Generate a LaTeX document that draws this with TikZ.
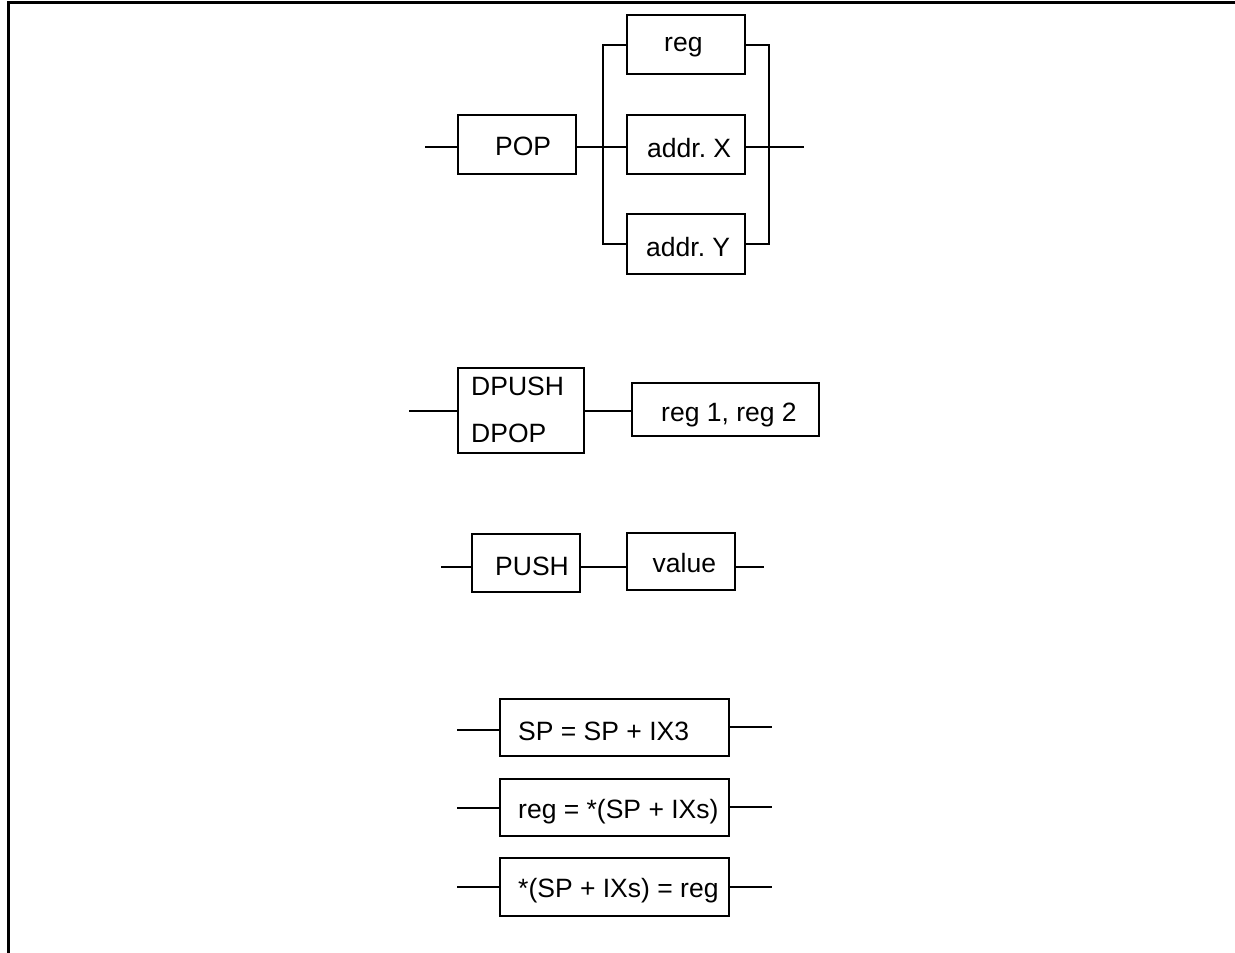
\documentclass[tikz,border=0pt]{standalone}
\usepackage{fontspec}
\setmainfont{Liberation Sans}
\frenchspacing
\begin{document}
\begin{tikzpicture}[x=1pt,y=-1pt,
  box/.style={draw, line width=2pt, inner sep=0pt, minimum width=#1},
  txt/.style={anchor=base west, inner sep=0pt, font=\fontsize{26.5}{31}\selectfont},
  wire/.style={line width=2pt},
  frame/.style={line width=3pt}]
\useasboundingbox (0,0) rectangle (1235,953);
% frame
\coordinate (fb) at (8.5,953);
\coordinate (fc) at (8.5,2.5);
\coordinate (fr) at (1235,2.5);
\draw[frame] (fb) -- (fc) -- (fr);

% ---- POP group
\node[box=118, minimum height=59] (pop) at (517,144.5) {};
\node[box=118, minimum height=59] (reg) at (686,44.5) {};
\node[box=118, minimum height=59] (addrX) at (686,144.5) {};
\node[box=118, minimum height=60] (addrY) at (686,244) {};
\node[txt] (popT) at (495,155) {POP};
\node[txt] (regT) at (664,51) {reg};
\node[txt] (addrXT) at (647,157) {addr.\ X};
\node[txt] (addrYT) at (646,256) {addr.\ Y};
\coordinate (inPOP) at (425,146.5);
\coordinate (busL) at (603,146.5);
\coordinate (busR) at (769,146.5);
\coordinate (outPOP) at (804,146.5);
\draw[wire] (inPOP) -- (pop.west |- inPOP);
\draw[wire] (pop.east |- busL) -- (addrX.west |- busL);
\draw[wire] (reg.west) -- (reg.west -| busL) -- (addrY.west -| busL) -- (addrY.west);
\draw[wire] (reg.east) -- (reg.east -| busR) -- (addrY.east -| busR) -- (addrY.east);
\draw[wire] (addrX.east |- busR) -- (outPOP);

% ---- DPUSH / DPOP group
\node[box=126, minimum height=85] (dpush) at (521,410.5) {};
\node[box=187, minimum height=53] (regs) at (725.5,409.5) {};
\node[txt] (dpushT) at (471,395) {DPUSH};
\node[txt] (dpopT) at (471,442) {DPOP};
\node[txt] (regsT) at (661,421) {reg 1, reg 2};
\coordinate (inD) at (409,410.5);
\draw[wire] (inD) -- (dpush.west |- inD);
\draw[wire] (dpush.east |- inD) -- (regs.west |- inD);

% ---- PUSH group
\node[box=108, minimum height=58] (push) at (526,563) {};
\node[box=108, minimum height=57] (value) at (681,561.5) {};
\node[txt] (pushT) at (495,575) {PUSH};
\node[txt] (valueT) at (652.5,572) {value};
\coordinate (inP) at (441,567);
\coordinate (outP) at (764,567);
\draw[wire] (inP) -- (push.west |- inP);
\draw[wire] (push.east |- inP) -- (value.west |- inP);
\draw[wire] (value.east |- outP) -- (outP);

% ---- SP group
\node[box=229, minimum height=57] (spa) at (614.5,727.5) {};
\node[box=229, minimum height=57] (spb) at (614.5,807.5) {};
\node[box=229, minimum height=58] (spc) at (614.5,887) {};
\node[txt] (spaT) at (518,740) {SP = SP + IX3};
\node[txt] (spbT) at (518,818) {reg = *(SP + IXs)};
\node[txt] (spcT) at (518,897) {*(SP + IXs) = reg};
\coordinate (inA) at (457,730);
\coordinate (outA) at (772,727);
\coordinate (inB) at (457,808);
\coordinate (outB) at (772,807);
\coordinate (inC) at (457,887);
\coordinate (outC) at (772,887);
\draw[wire] (inA) -- (spa.west |- inA);
\draw[wire] (spa.east |- outA) -- (outA);
\draw[wire] (inB) -- (spb.west |- inB);
\draw[wire] (spb.east |- outB) -- (outB);
\draw[wire] (inC) -- (spc.west |- inC);
\draw[wire] (spc.east |- outC) -- (outC);
\end{tikzpicture}
\end{document}
